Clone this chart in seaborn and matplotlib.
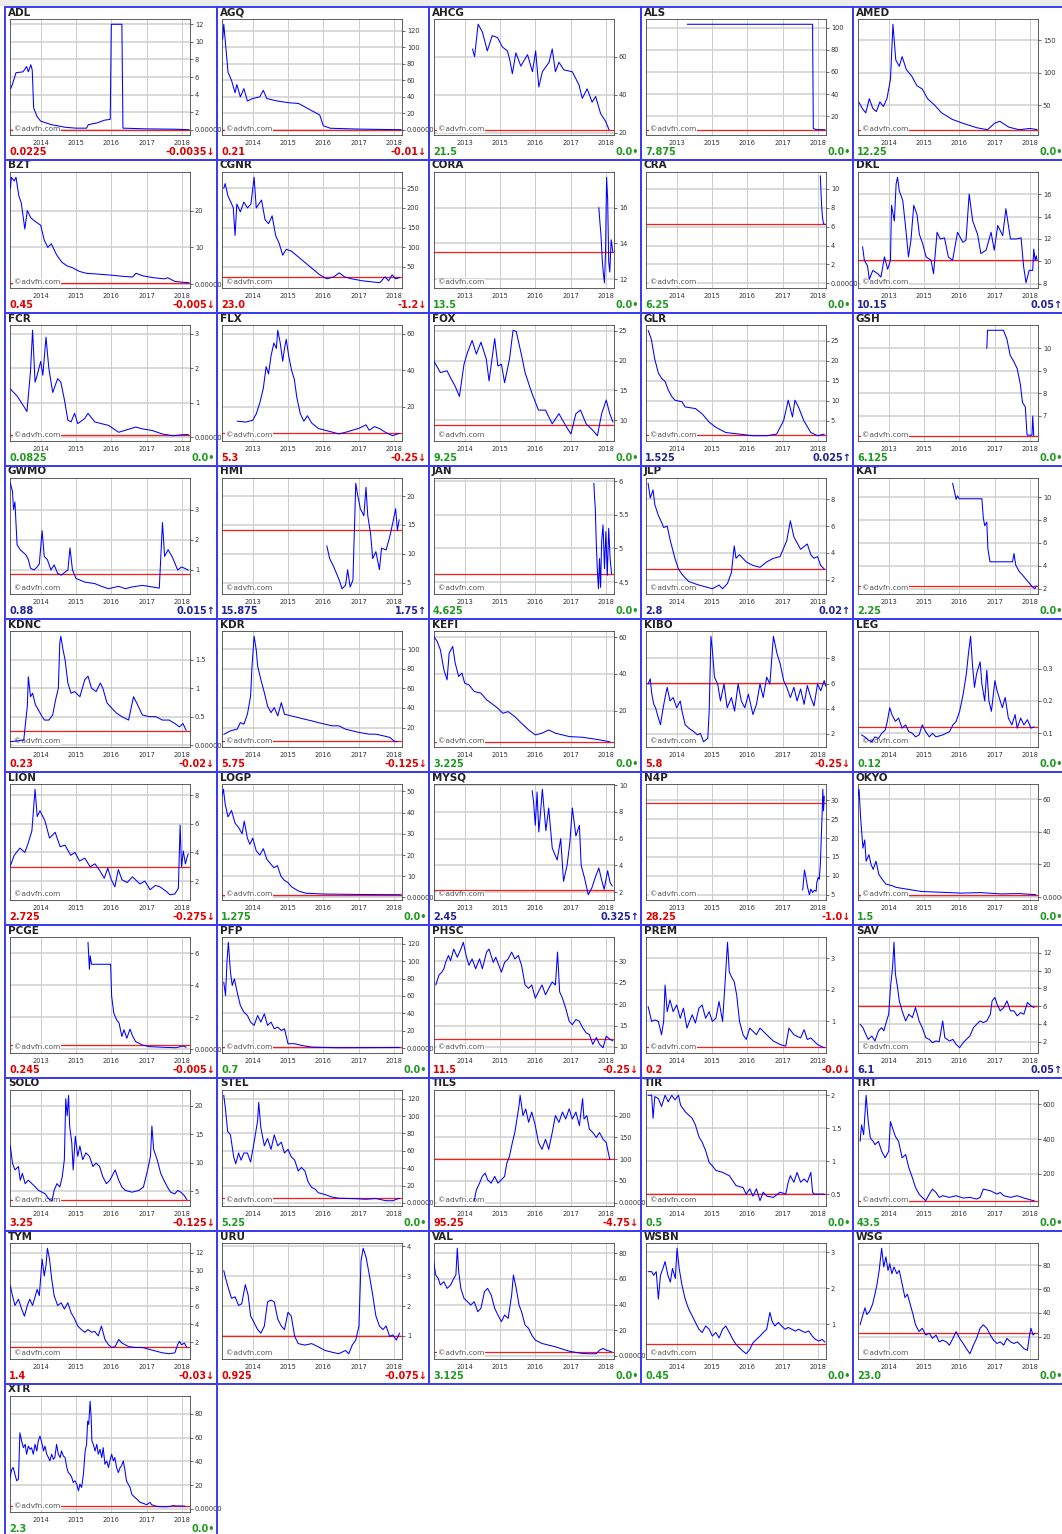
import matplotlib
matplotlib.use("Agg")
import matplotlib.pyplot as plt
from matplotlib.patches import Rectangle
from matplotlib.ticker import FuncFormatter
import pandas as pd
import seaborn as sns

# ---------------- data ----------------
TICKERS = ["ADL", "AGQ", "AHCG", "ALS", "AMED",
           "BZT", "CGNR", "CORA", "CRA", "DKL",
           "FCR", "FLX", "FOX", "GLR", "GSH",
           "GWMO", "HMI", "JAN", "JLP", "KAT",
           "KDNC", "KDR", "KEFI", "KIBO", "LEG",
           "LION", "LOGP", "MYSQ", "N4P", "OKYO",
           "PCGE", "PFP", "PHSC", "PREM", "SAV",
           "SOLO", "STEL", "TILS", "TIR", "TRT",
           "TYM", "URU", "VAL", "WSBN", "WSG",
           "XTR"]

PRICE = [0.0225, 0.21, 21.5, 7.875, 12.25,
         0.45, 23.0, 13.5, 6.25, 10.15,
         0.0825, 5.3, 9.25, 1.525, 6.125,
         0.88, 15.875, 4.625, 2.8, 2.25,
         0.23, 5.75, 3.225, 5.8, 0.12,
         2.725, 1.275, 2.45, 28.25, 1.5,
         0.245, 0.7, 11.5, 0.2, 6.1,
         3.25, 5.25, 95.25, 0.5, 43.5,
         1.4, 0.925, 3.125, 0.45, 23.0,
         2.3]

CHANGE = [-0.0035, -0.01, 0.0, 0.0, 0.0,
          -0.005, -1.2, 0.0, 0.0, 0.05,
          0.0, -0.25, 0.0, 0.025, 0.0,
          0.015, 1.75, 0.0, 0.02, 0.0,
          -0.02, -0.125, 0.0, -0.25, 0.0,
          -0.275, 0.0, 0.325, -1.0, 0.0,
          -0.005, 0.0, -0.25, -0.0, 0.05,
          -0.125, 0.0, -4.75, 0.0, 0.0,
          -0.03, -0.075, 0.0, 0.0, 0.0,
          0.0]

YTICKS = [[0, 2, 4, 6, 8, 10, 12], [0, 20, 40, 60, 80, 100, 120], [20, 40, 60], [20, 40, 60, 80, 100], [50, 100, 150],
          [0, 10, 20], [50, 100, 150, 200, 250], [12, 14, 16], [0, 2, 4, 6, 8, 10], [8, 10, 12, 14, 16],
          [0, 1, 2, 3], [20, 40, 60], [10, 15, 20, 25], [5, 10, 15, 20, 25], [7, 8, 9, 10],
          [1, 2, 3], [5, 10, 15, 20], [4.5, 5, 5.5, 6], [2, 4, 6, 8], [2, 4, 6, 8, 10],
          [0, 0.5, 1, 1.5], [20, 40, 60, 80, 100], [20, 40, 60], [2, 4, 6, 8], [0.1, 0.2, 0.3],
          [2, 4, 6, 8], [0, 10, 20, 30, 40, 50], [2, 4, 6, 8, 10], [5, 10, 15, 20, 25, 30], [0, 20, 40, 60],
          [0, 2, 4, 6], [0, 20, 40, 60, 80, 100, 120], [10, 15, 20, 25, 30], [1, 2, 3], [2, 4, 6, 8, 10, 12],
          [5, 10, 15, 20], [0, 20, 40, 60, 80, 100, 120], [0, 50, 100, 150, 200], [0.5, 1, 1.5, 2], [200, 400, 600],
          [2, 4, 6, 8, 10, 12], [1, 2, 3, 4], [0, 20, 40, 60, 80], [1, 2, 3], [20, 40, 60, 80],
          [0, 20, 40, 60, 80]]

YEAR_TICKS = [2014, 2015, 2016, 2017, 2018]
YEAR_LABELS = ["2014", "2015", "2016", "2017", "2018"]
YEAR_LABELS_OLD = ["2013", "2015", "2016", "2017", "2018"]
OLD_LABEL_PANELS = ["AHCG", "ALS", "CORA", "DKL", "FLX", "GSH", "HMI", "JAN", "KAT", "MYSQ", "N4P", "PCGE"]
FIXED_YLIM = {"CRA": (-0.5, 11.8)}

# price history, (year, price)
ADL = [(2013.15, 4.7), (2013.2, 5.2), (2013.3, 6.5), (2013.5, 6.6), (2013.6, 7.2), (2013.65, 6.6), (2013.72, 7.4),
       (2013.76, 6.8), (2013.8, 2.5), (2013.9, 1.5), (2014.0, 1.0), (2014.3, 0.6), (2014.7, 0.3), (2015.0, 0.2),
       (2015.3, 0.2), (2015.35, 0.6), (2015.6, 0.8), (2015.8, 1.1), (2015.97, 1.2), (2016.0, 12.0), (2016.3, 12.0),
       (2016.33, 0.2), (2017.0, 0.12), (2017.8, 0.08), (2018.2, 0.0225)]
AGQ = [(2013.15, 110), (2013.18, 128), (2013.25, 95), (2013.3, 70), (2013.4, 60), (2013.5, 45), (2013.55, 55),
       (2013.65, 40), (2013.75, 50), (2013.85, 35), (2014.0, 38), (2014.2, 40), (2014.3, 48), (2014.4, 38),
       (2014.7, 35), (2015.0, 33), (2015.3, 32), (2015.6, 25), (2015.9, 18), (2016.0, 5), (2016.2, 2),
       (2017.0, 1), (2018.2, 0.21)]
AHCG = [(2014.22, 64), (2014.28, 60), (2014.38, 77), (2014.5, 73), (2014.64, 63), (2014.78, 71), (2014.93, 70),
        (2015.07, 65), (2015.21, 63), (2015.28, 58), (2015.35, 51), (2015.45, 62), (2015.59, 55), (2015.78, 61),
        (2015.92, 52), (2016.01, 63), (2016.1, 44), (2016.2, 52), (2016.39, 57), (2016.48, 64), (2016.57, 52),
        (2016.67, 57), (2016.81, 53), (2017.05, 52), (2017.24, 45), (2017.33, 38), (2017.47, 43), (2017.61, 36),
        (2017.71, 39), (2017.85, 30), (2017.99, 26), (2018.09, 21.5)]
ALS = [(2014.3, 103), (2017.85, 103), (2017.87, 9), (2017.95, 8), (2018.2, 7.875)]
AMED = [(2013.15, 55), (2013.25, 45), (2013.35, 38), (2013.45, 60), (2013.55, 45), (2013.65, 40), (2013.75, 55),
        (2013.85, 48), (2013.95, 60), (2014.05, 90), (2014.12, 175), (2014.2, 120), (2014.3, 110), (2014.38, 125),
        (2014.5, 105), (2014.65, 95), (2014.8, 80), (2014.95, 75), (2015.1, 60), (2015.3, 50), (2015.5, 38),
        (2015.8, 28), (2016.1, 22), (2016.5, 15), (2016.8, 12), (2017.0, 22), (2017.15, 25), (2017.4, 16),
        (2017.7, 12), (2018.0, 14), (2018.2, 12.25)]
BZT = [(2013.14, 26), (2013.17, 29), (2013.25, 28), (2013.3, 29), (2013.38, 24), (2013.45, 22), (2013.55, 15),
       (2013.62, 20), (2013.72, 18), (2013.85, 17), (2014.0, 16), (2014.1, 12), (2014.2, 10), (2014.3, 11),
       (2014.45, 8), (2014.6, 6), (2014.75, 5), (2014.9, 4.5), (2015.1, 3.5), (2015.3, 3), (2015.6, 2.8),
       (2016.0, 2.5), (2016.3, 2.2), (2016.6, 2.0), (2016.7, 3.0), (2016.9, 2.3), (2017.2, 1.8), (2017.5, 1.5),
       (2017.6, 1.8), (2017.8, 0.8), (2018.0, 0.6), (2018.2, 0.45)]
CGNR = [(2013.18, 250), (2013.22, 262), (2013.3, 230), (2013.38, 215), (2013.45, 200), (2013.5, 130), (2013.55, 210),
        (2013.65, 190), (2013.75, 215), (2013.85, 200), (2013.95, 210), (2014.04, 278), (2014.1, 200), (2014.25, 220),
        (2014.35, 170), (2014.45, 160), (2014.55, 180), (2014.65, 130), (2014.75, 110), (2014.85, 80), (2014.95, 95),
        (2015.1, 90), (2015.3, 75), (2015.5, 60), (2015.7, 45), (2015.9, 30), (2016.1, 20), (2016.3, 25),
        (2016.45, 35), (2016.6, 25), (2016.8, 20), (2017.1, 15), (2017.4, 12), (2017.6, 10), (2017.75, 25),
        (2017.85, 15), (2017.95, 30), (2018.05, 20), (2018.16, 23)]
CORA = [(2017.8, 16.0), (2017.83, 15.2), (2017.86, 14.5), (2017.9, 13.0), (2017.93, 12.3), (2017.96, 11.8),
        (2017.99, 13.5), (2018.02, 17.7), (2018.05, 16.5), (2018.08, 13.0), (2018.11, 12.4), (2018.15, 14.2),
        (2018.2, 13.5)]
CRA = [(2018.07, 11.4), (2018.09, 9.5), (2018.11, 8.0), (2018.13, 7.0), (2018.16, 6.3), (2018.2, 6.25)]
DKL = [(2013.26, 11.3), (2013.31, 10.1), (2013.4, 9.6), (2013.45, 8.4), (2013.55, 9.2), (2013.69, 8.9),
       (2013.78, 8.6), (2013.88, 10.4), (2013.97, 9.3), (2014.05, 10.1), (2014.08, 15.0), (2014.16, 13.6),
       (2014.21, 16.9), (2014.25, 17.5), (2014.3, 16.3), (2014.4, 15.4), (2014.49, 12.7), (2014.56, 10.4),
       (2014.63, 11.9), (2014.71, 15.0), (2014.8, 14.2), (2014.87, 12.4), (2014.96, 11.6), (2015.06, 10.4),
       (2015.2, 10.1), (2015.27, 8.9), (2015.37, 12.6), (2015.46, 12.0), (2015.58, 12.1), (2015.69, 10.4),
       (2015.81, 10.1), (2015.95, 12.6), (2016.1, 11.7), (2016.19, 11.9), (2016.28, 16.0), (2016.38, 13.6),
       (2016.52, 12.4), (2016.61, 10.7), (2016.76, 11.0), (2016.9, 12.6), (2016.99, 11.0), (2017.09, 13.2),
       (2017.23, 12.3), (2017.32, 14.7), (2017.45, 12.0), (2017.61, 12.0), (2017.75, 12.1), (2017.82, 9.6),
       (2017.89, 8.1), (2017.98, 9.2), (2018.08, 9.2), (2018.11, 11.1), (2018.15, 10.1), (2018.18, 10.5),
       (2018.2, 10.15)]
FCR = [(2013.14, 1.4), (2013.33, 1.2), (2013.52, 0.9), (2013.61, 0.75), (2013.71, 1.9), (2013.77, 3.1),
       (2013.84, 1.6), (2013.9, 1.8), (2014.0, 2.2), (2014.06, 1.8), (2014.15, 2.9), (2014.23, 2.0), (2014.34, 1.3),
       (2014.48, 1.7), (2014.57, 1.6), (2014.67, 1.1), (2014.77, 0.5), (2014.86, 0.45), (2014.96, 0.7),
       (2015.05, 0.4), (2015.25, 0.55), (2015.34, 0.7), (2015.53, 0.45), (2015.72, 0.4), (2015.92, 0.35),
       (2016.21, 0.15), (2016.69, 0.3), (2016.88, 0.25), (2017.16, 0.2), (2017.45, 0.1), (2017.74, 0.05),
       (2018.03, 0.08), (2018.18, 0.0825)]
FLX = [(2013.56, 12), (2013.8, 11.5), (2014.0, 12.5), (2014.1, 16), (2014.2, 22), (2014.3, 30), (2014.38, 42),
       (2014.45, 38), (2014.52, 48), (2014.6, 55), (2014.67, 52), (2014.71, 62), (2014.78, 55), (2014.85, 45),
       (2014.9, 52), (2014.95, 57), (2015.02, 48), (2015.1, 40), (2015.18, 35), (2015.25, 25), (2015.35, 16),
       (2015.45, 12), (2015.55, 15), (2015.67, 11), (2015.86, 8), (2016.05, 7), (2016.25, 6), (2016.44, 5),
       (2016.65, 6), (2016.82, 7), (2017.0, 8), (2017.21, 10), (2017.3, 7), (2017.45, 9), (2017.59, 8),
       (2017.75, 6), (2017.96, 4), (2018.15, 5.3)]
FOX = [(2013.12, 20), (2013.31, 18), (2013.5, 18.3), (2013.6, 17.1), (2013.73, 15.7), (2013.85, 14), (2013.98, 19.4),
       (2014.08, 21.4), (2014.21, 23.4), (2014.33, 21.1), (2014.46, 23.1), (2014.61, 20.3), (2014.69, 16.6),
       (2014.85, 23.7), (2014.94, 19.1), (2015.04, 19.4), (2015.13, 16.3), (2015.27, 20.3), (2015.37, 25.1),
       (2015.46, 24.9), (2015.61, 20.9), (2015.71, 18), (2015.9, 14.6), (2016.09, 11.7), (2016.29, 11.7),
       (2016.48, 9.4), (2016.67, 11.1), (2016.86, 9.1), (2017.01, 7.7), (2017.15, 11.1), (2017.28, 11.7),
       (2017.44, 9.4), (2017.63, 8.3), (2017.76, 7.4), (2017.88, 11.1), (2018.01, 13.4), (2018.11, 11.1),
       (2018.2, 9.7)]
GLR = [(2013.19, 27.6), (2013.28, 25.4), (2013.38, 20.3), (2013.48, 16.9), (2013.57, 15.6), (2013.67, 14.8),
       (2013.76, 12.7), (2013.86, 11.0), (2013.95, 10.1), (2014.15, 9.7), (2014.24, 8.4), (2014.53, 8.0),
       (2014.72, 6.7), (2014.92, 4.6), (2015.11, 3.3), (2015.39, 2.0), (2015.78, 1.6), (2016.16, 1.2),
       (2016.55, 1.2), (2016.83, 1.6), (2017.03, 5.0), (2017.16, 10.1), (2017.28, 5.9), (2017.35, 10.1),
       (2017.45, 8.4), (2017.6, 5.0), (2017.8, 2.0), (2017.99, 1.2), (2018.18, 1.6)]
GSH = [(2016.78, 10.0), (2016.8, 10.8), (2017.25, 10.8), (2017.35, 10.4), (2017.44, 9.7), (2017.55, 9.4),
       (2017.64, 9.1), (2017.73, 8.4), (2017.79, 7.6), (2017.87, 7.4), (2017.92, 6.15), (2018.06, 6.15),
       (2018.08, 7.0), (2018.11, 6.125)]
GWMO = [(2013.14, 3.87), (2013.2, 3.6), (2013.23, 3.0), (2013.27, 3.25), (2013.33, 1.84), (2013.42, 1.67),
        (2013.58, 1.5), (2013.65, 1.34), (2013.71, 1.06), (2013.81, 1.0), (2013.9, 1.1), (2013.96, 1.2),
        (2014.04, 2.3), (2014.1, 1.45), (2014.19, 1.34), (2014.29, 1.0), (2014.38, 1.17), (2014.48, 0.89),
        (2014.58, 0.83), (2014.77, 1.0), (2014.83, 1.73), (2014.9, 1.0), (2015.0, 0.72), (2015.25, 0.6),
        (2015.53, 0.55), (2015.72, 0.46), (2015.92, 0.38), (2016.21, 0.46), (2016.4, 0.38), (2016.59, 0.44),
        (2016.88, 0.49), (2017.16, 0.44), (2017.36, 0.4), (2017.45, 2.57), (2017.51, 1.45), (2017.61, 1.67),
        (2017.74, 1.4), (2017.88, 1.0), (2017.99, 1.1), (2018.07, 1.06), (2018.18, 1.0)]
HMI = [(2016.1, 11.4), (2016.18, 9.2), (2016.28, 8.0), (2016.37, 6.7), (2016.47, 5.2), (2016.53, 4.0), (2016.63, 4.6),
       (2016.69, 7.3), (2016.76, 4.3), (2016.84, 5.5), (2016.92, 22.2), (2016.97, 20.3), (2017.05, 17.8),
       (2017.15, 16.6), (2017.21, 21.5), (2017.26, 16.6), (2017.34, 13.5), (2017.4, 9.2), (2017.49, 10.4),
       (2017.59, 7.3), (2017.65, 11.0), (2017.78, 10.7), (2017.88, 12.9), (2017.97, 15.4), (2018.05, 17.8),
       (2018.1, 14.1), (2018.15, 15.9)]
JAN = [(2017.66, 5.97), (2017.68, 5.75), (2017.7, 5.6), (2017.73, 5.05), (2017.76, 4.65), (2017.79, 4.4),
       (2017.82, 4.85), (2017.85, 4.42), (2017.88, 5.1), (2017.92, 5.35), (2017.96, 4.7), (2018.0, 5.25),
       (2018.04, 4.6), (2018.08, 5.3), (2018.12, 4.85), (2018.16, 4.625)]
JLP = [(2013.19, 9.2), (2013.25, 8.1), (2013.33, 8.7), (2013.38, 7.6), (2013.48, 6.8), (2013.57, 6.3), (2013.63, 5.9),
       (2013.73, 6.0), (2013.82, 4.9), (2013.95, 3.6), (2014.05, 2.8), (2014.15, 2.4), (2014.34, 1.87),
       (2014.63, 1.6), (2014.82, 1.47), (2015.01, 1.33), (2015.2, 1.6), (2015.3, 1.33), (2015.44, 1.73),
       (2015.55, 2.53), (2015.63, 4.53), (2015.68, 3.6), (2015.78, 3.87), (2015.97, 3.33), (2016.16, 3.07),
       (2016.36, 2.93), (2016.55, 3.33), (2016.74, 3.6), (2016.93, 3.73), (2017.12, 4.93), (2017.22, 6.4),
       (2017.32, 5.2), (2017.51, 4.27), (2017.7, 4.67), (2017.8, 3.87), (2017.89, 3.6), (2017.99, 3.73),
       (2018.08, 3.07), (2018.18, 2.8)]
KAT = [(2015.81, 11.2), (2015.87, 10.4), (2015.91, 9.8), (2015.95, 10.1), (2016.0, 9.85), (2016.64, 9.85),
       (2016.68, 8.2), (2016.72, 7.5), (2016.78, 7.8), (2016.81, 5.5), (2016.87, 4.35), (2017.51, 4.35),
       (2017.55, 5.07), (2017.6, 4.06), (2017.7, 3.5), (2017.79, 3.2), (2017.87, 2.9), (2017.98, 2.5),
       (2018.06, 2.2), (2018.14, 2.0), (2018.18, 2.25)]
KDNC = [(2013.14, 0.06), (2013.52, 0.09), (2013.62, 0.68), (2013.65, 1.2), (2013.71, 0.85), (2013.77, 0.91),
        (2013.85, 0.71), (2013.96, 0.59), (2014.04, 0.5), (2014.11, 0.44), (2014.23, 0.44), (2014.34, 0.53),
        (2014.42, 0.79), (2014.5, 1.0), (2014.54, 1.79), (2014.57, 1.91), (2014.63, 1.68), (2014.69, 1.5),
        (2014.77, 1.09), (2014.86, 0.91), (2014.96, 0.94), (2015.11, 0.85), (2015.25, 1.15), (2015.34, 1.21),
        (2015.44, 1.0), (2015.57, 0.94), (2015.69, 1.09), (2015.76, 1.0), (2015.88, 0.74), (2016.01, 0.65),
        (2016.15, 0.56), (2016.3, 0.5), (2016.49, 0.44), (2016.63, 0.85), (2016.72, 0.74), (2016.88, 0.53),
        (2017.07, 0.5), (2017.26, 0.5), (2017.45, 0.44), (2017.64, 0.44), (2017.8, 0.38), (2017.93, 0.32),
        (2018.03, 0.38), (2018.12, 0.26)]
KDR = [(2013.18, 13), (2013.37, 16.6), (2013.56, 18.3), (2013.65, 25), (2013.75, 23.4), (2013.85, 33.5),
       (2013.94, 52), (2013.98, 82.5), (2014.04, 113), (2014.1, 99), (2014.14, 82.5), (2014.23, 69),
       (2014.33, 55.5), (2014.42, 42), (2014.52, 35.2), (2014.61, 40.3), (2014.71, 31.8), (2014.81, 45.3),
       (2014.9, 33.5), (2015.09, 31.8), (2015.29, 30.1), (2015.48, 28.4), (2015.67, 26.8), (2015.86, 25),
       (2016.05, 23.4), (2016.25, 21.7), (2016.44, 21.7), (2016.63, 18.3), (2016.82, 16.6), (2017.01, 15),
       (2017.3, 13.2), (2017.49, 13.2), (2017.69, 11.6), (2017.88, 10), (2018.03, 5.5), (2018.1, 5.75)]
KEFI = [(2013.12, 60.4), (2013.22, 57.6), (2013.31, 53.1), (2013.41, 42.3), (2013.5, 36.8), (2013.56, 51.3),
        (2013.66, 54.9), (2013.73, 45.9), (2013.83, 38.6), (2013.92, 40.5), (2014.0, 35), (2014.12, 34.1),
        (2014.27, 30.5), (2014.46, 29.6), (2014.62, 26), (2014.75, 24.2), (2014.94, 21.4), (2015.08, 18.7),
        (2015.23, 19.6), (2015.42, 16.9), (2015.61, 13.3), (2015.81, 9.7), (2016.0, 7), (2016.19, 7.9),
        (2016.38, 9.7), (2016.57, 7.9), (2016.77, 7), (2016.96, 6.1), (2017.34, 5.7), (2017.73, 4.6),
        (2018.11, 3.3)]
KIBO = [(2013.19, 5.97), (2013.25, 6.38), (2013.29, 5.24), (2013.35, 4.35), (2013.4, 4.08), (2013.48, 3.27),
        (2013.54, 2.73), (2013.6, 3.81), (2013.67, 4.89), (2013.73, 5.7), (2013.81, 4.62), (2013.9, 4.89),
        (2014.0, 4.08), (2014.1, 4.62), (2014.15, 3.81), (2014.24, 2.73), (2014.34, 2.46), (2014.48, 2.19),
        (2014.59, 1.92), (2014.67, 2.05), (2014.76, 1.38), (2014.88, 1.65), (2014.92, 3.81), (2014.97, 9.76),
        (2015.01, 8.68), (2015.07, 6.51), (2015.16, 5.97), (2015.24, 4.62), (2015.34, 5.97), (2015.43, 4.08),
        (2015.55, 4.89), (2015.64, 3.81), (2015.74, 5.97), (2015.83, 4.62), (2015.93, 4.08), (2016.03, 5.16),
        (2016.16, 3.54), (2016.26, 4.35), (2016.36, 5.97), (2016.45, 4.89), (2016.55, 6.51), (2016.64, 5.97),
        (2016.74, 9.76), (2016.84, 8.41), (2016.93, 7.59), (2017.03, 6.24), (2017.12, 5.7), (2017.22, 4.89),
        (2017.32, 5.7), (2017.41, 4.62), (2017.51, 5.57), (2017.61, 4.35), (2017.7, 5.84), (2017.8, 4.89),
        (2017.89, 4.22), (2017.99, 5.97), (2018.08, 5.43), (2018.18, 6.24), (2018.22, 5.8)]
LEG = [(2013.23, 0.095), (2013.32, 0.089), (2013.42, 0.079), (2013.52, 0.074), (2013.61, 0.089), (2013.71, 0.084),
       (2013.8, 0.1), (2013.9, 0.11), (2013.96, 0.137), (2014.03, 0.179), (2014.09, 0.158), (2014.19, 0.137),
       (2014.28, 0.147), (2014.38, 0.116), (2014.48, 0.126), (2014.57, 0.105), (2014.67, 0.1), (2014.76, 0.089),
       (2014.86, 0.095), (2014.95, 0.126), (2015.05, 0.105), (2015.15, 0.089), (2015.24, 0.1), (2015.34, 0.089),
       (2015.53, 0.095), (2015.72, 0.105), (2015.82, 0.126), (2015.91, 0.137), (2016.01, 0.168), (2016.11, 0.221),
       (2016.2, 0.284), (2016.26, 0.347), (2016.32, 0.4), (2016.37, 0.316), (2016.43, 0.242), (2016.49, 0.284),
       (2016.59, 0.321), (2016.64, 0.253), (2016.72, 0.2), (2016.78, 0.295), (2016.84, 0.2), (2016.91, 0.168),
       (2017.01, 0.263), (2017.07, 0.232), (2017.16, 0.2), (2017.22, 0.179), (2017.3, 0.211), (2017.39, 0.147),
       (2017.49, 0.126), (2017.58, 0.158), (2017.64, 0.116), (2017.74, 0.147), (2017.83, 0.126), (2017.93, 0.142),
       (2018.03, 0.116), (2018.12, 0.12)]
LION = [(2013.13, 3.0), (2013.25, 3.8), (2013.41, 4.3), (2013.55, 4.0), (2013.64, 4.6), (2013.75, 5.5),
        (2013.84, 8.4), (2013.9, 6.5), (2013.98, 6.9), (2014.12, 6.2), (2014.25, 5.0), (2014.41, 5.4),
        (2014.55, 4.4), (2014.69, 4.5), (2014.85, 3.8), (2014.97, 4.0), (2015.1, 3.4), (2015.25, 3.6),
        (2015.4, 3.0), (2015.54, 3.2), (2015.68, 2.7), (2015.8, 2.2), (2015.9, 2.9), (2016.0, 2.1), (2016.1, 1.6),
        (2016.2, 2.8), (2016.3, 2.1), (2016.45, 1.9), (2016.6, 2.3), (2016.81, 1.8), (2016.95, 2.0), (2017.1, 1.4),
        (2017.25, 1.7), (2017.38, 1.6), (2017.55, 1.3), (2017.66, 1.05), (2017.8, 1.1), (2017.9, 1.5),
        (2017.95, 5.9), (2017.99, 3.0), (2018.04, 4.1), (2018.1, 3.2), (2018.14, 3.6), (2018.18, 3.9)]
LOGP = [(2013.13, 48), (2013.17, 51), (2013.22, 44), (2013.3, 38), (2013.4, 41), (2013.5, 35), (2013.6, 33),
        (2013.7, 30), (2013.76, 36), (2013.85, 28), (2013.92, 25), (2014.0, 28), (2014.1, 22), (2014.2, 20),
        (2014.3, 23), (2014.4, 18), (2014.5, 16), (2014.6, 14), (2014.7, 15), (2014.8, 10), (2014.9, 8),
        (2015.0, 7), (2015.1, 5), (2015.3, 3), (2015.5, 2), (2016.0, 1.6), (2017.0, 1.4), (2018.0, 1.3),
        (2018.2, 1.275)]
MYSQ = [(2015.91, 9.6), (2015.95, 8.8), (2016.0, 7.0), (2016.05, 9.5), (2016.1, 6.5), (2016.15, 8.0), (2016.2, 9.7),
        (2016.3, 6.6), (2016.38, 8.3), (2016.48, 5.3), (2016.62, 4.4), (2016.72, 6.0), (2016.8, 2.8), (2016.9, 4.0),
        (2016.98, 5.7), (2017.05, 8.3), (2017.15, 6.2), (2017.25, 7.0), (2017.3, 4.0), (2017.4, 3.0), (2017.5, 1.8),
        (2017.6, 2.3), (2017.7, 3.1), (2017.8, 3.8), (2017.88, 2.9), (2017.95, 2.2), (2018.05, 3.6), (2018.12, 2.7),
        (2018.18, 2.45)]
N4P = [(2017.57, 6.2), (2017.62, 11.5), (2017.66, 9.6), (2017.71, 6.9), (2017.76, 5.0), (2017.8, 6.5), (2017.85, 5.6),
       (2017.9, 6.2), (2017.95, 5.9), (2017.97, 8.3), (2018.01, 9.6), (2018.04, 9.1), (2018.07, 13.1),
       (2018.09, 18.4), (2018.12, 26.3), (2018.14, 32.9), (2018.16, 27.2), (2018.18, 31.1)]
OKYO = [(2013.13, 62), (2013.16, 66), (2013.2, 50), (2013.22, 44), (2013.27, 30), (2013.32, 35), (2013.36, 22),
        (2013.44, 26), (2013.5, 20), (2013.56, 17), (2013.64, 22), (2013.72, 14), (2013.78, 12), (2013.92, 8),
        (2014.1, 7), (2014.21, 6), (2014.49, 5), (2014.92, 3.5), (2015.48, 3), (2016.05, 2.5), (2016.6, 2.8),
        (2017.18, 2), (2017.7, 2.2), (2018.17, 1.5)]
PCGE = [(2015.34, 6.67), (2015.38, 4.99), (2015.4, 5.83), (2015.44, 5.3), (2015.98, 5.3), (2016.01, 3.31),
        (2016.07, 2.26), (2016.15, 1.84), (2016.22, 1.64), (2016.3, 0.8), (2016.36, 1.22), (2016.44, 0.69),
        (2016.53, 1.26), (2016.61, 0.8), (2016.69, 0.48), (2016.88, 0.27), (2017.07, 0.17), (2017.45, 0.13),
        (2017.84, 0.1), (2018.03, 0.21), (2018.12, 0.13)]
PFP = [(2013.18, 75.9), (2013.23, 60.5), (2013.27, 98.9), (2013.31, 121.8), (2013.37, 87.4), (2013.42, 72),
       (2013.48, 79.7), (2013.56, 64.4), (2013.65, 49), (2013.75, 41.4), (2013.85, 37.5), (2013.94, 29.9),
       (2014.04, 26.1), (2014.14, 37.5), (2014.23, 29.9), (2014.33, 39.5), (2014.42, 26.1), (2014.52, 29.9),
       (2014.61, 22.2), (2014.71, 24.1), (2014.81, 20.3), (2014.9, 22.2), (2015.0, 5), (2015.19, 5), (2015.38, 3.1),
       (2015.67, 1.1), (2016.44, 0.4), (2018.16, 0.7)]
PHSC = [(2013.18, 24.5), (2013.27, 26.8), (2013.35, 27.5), (2013.41, 28.3), (2013.46, 29.8), (2013.54, 31.4),
        (2013.6, 30.2), (2013.69, 32.9), (2013.79, 31.0), (2013.89, 32.9), (2013.96, 34.5), (2014.04, 31.4),
        (2014.12, 29.1), (2014.21, 30.6), (2014.31, 28.3), (2014.42, 30.6), (2014.5, 28.3), (2014.62, 32.2),
        (2014.69, 32.9), (2014.81, 29.8), (2014.88, 31.0), (2015.04, 27.5), (2015.13, 29.8), (2015.23, 30.6),
        (2015.33, 32.2), (2015.42, 30.6), (2015.52, 31.4), (2015.61, 29.1), (2015.71, 24.5), (2015.81, 23.7),
        (2015.9, 24.5), (2016.0, 21.4), (2016.09, 22.9), (2016.19, 24.5), (2016.29, 22.2), (2016.38, 23.7),
        (2016.48, 25.2), (2016.57, 24.5), (2016.63, 32.2), (2016.69, 22.9), (2016.77, 21.4), (2016.86, 19.1),
        (2016.96, 16.0), (2017.05, 15.2), (2017.15, 16.4), (2017.25, 16.0), (2017.34, 14.5), (2017.44, 13.3),
        (2017.53, 12.9), (2017.63, 10.6), (2017.73, 12.2), (2017.82, 10.6), (2017.92, 9.8), (2018.01, 12.5),
        (2018.11, 11.8), (2018.2, 11.4)]
PREM = [(2013.19, 1.47), (2013.29, 1.0), (2013.38, 1.05), (2013.48, 1.0), (2013.57, 0.58), (2013.63, 1.0),
        (2013.67, 2.15), (2013.73, 1.31), (2013.81, 1.68), (2013.9, 1.31), (2014.0, 1.52), (2014.1, 1.1),
        (2014.19, 1.42), (2014.29, 0.79), (2014.36, 1.0), (2014.44, 1.21), (2014.53, 0.95), (2014.63, 1.42),
        (2014.72, 1.52), (2014.82, 1.1), (2014.92, 1.31), (2015.01, 1.0), (2015.11, 1.1), (2015.2, 1.63),
        (2015.3, 1.0), (2015.36, 2.04), (2015.44, 3.5), (2015.49, 2.56), (2015.55, 2.41), (2015.63, 2.25),
        (2015.7, 1.83), (2015.78, 1.0), (2015.88, 0.58), (2015.97, 0.43), (2016.07, 0.79), (2016.16, 0.69),
        (2016.26, 0.58), (2016.36, 0.79), (2016.45, 0.69), (2016.55, 0.58), (2016.74, 0.38), (2016.93, 0.27),
        (2017.09, 0.22), (2017.18, 0.79), (2017.32, 0.58), (2017.51, 0.48), (2017.61, 0.74), (2017.7, 0.43),
        (2017.8, 0.48), (2017.89, 0.38), (2017.99, 0.27), (2018.08, 0.22), (2018.18, 0.17)]
SAV = [(2013.19, 3.96), (2013.27, 3.58), (2013.35, 2.83), (2013.42, 2.26), (2013.52, 2.64), (2013.61, 2.08),
       (2013.71, 3.21), (2013.8, 3.58), (2013.86, 3.21), (2013.94, 4.34), (2014.0, 5.09), (2014.05, 8.11),
       (2014.11, 10.38), (2014.15, 13.2), (2014.19, 9.62), (2014.25, 8.11), (2014.3, 6.6), (2014.38, 5.47),
       (2014.48, 4.34), (2014.57, 5.09), (2014.67, 4.72), (2014.76, 5.85), (2014.86, 4.34), (2014.95, 3.58),
       (2015.05, 2.45), (2015.15, 2.26), (2015.24, 1.89), (2015.34, 2.08), (2015.43, 2.0), (2015.53, 4.34),
       (2015.59, 2.45), (2015.72, 2.08), (2015.82, 2.26), (2015.91, 1.7), (2016.01, 1.32), (2016.11, 1.89),
       (2016.2, 2.26), (2016.3, 2.64), (2016.4, 3.58), (2016.49, 3.96), (2016.59, 4.34), (2016.68, 4.15),
       (2016.78, 4.34), (2016.88, 5.09), (2016.93, 6.6), (2017.01, 6.98), (2017.07, 6.23), (2017.16, 5.47),
       (2017.26, 5.85), (2017.35, 6.6), (2017.45, 5.47), (2017.55, 5.47), (2017.64, 4.91), (2017.74, 5.28),
       (2017.83, 5.09), (2017.93, 6.42), (2018.03, 6.04), (2018.12, 5.85)]
SOLO = [(2013.14, 12.9), (2013.2, 9.9), (2013.27, 8.7), (2013.37, 9.3), (2013.42, 6.9), (2013.48, 8.1),
        (2013.56, 6.3), (2013.65, 6.9), (2013.75, 6.3), (2013.85, 5.7), (2013.94, 5.1), (2014.04, 4.8),
        (2014.13, 4.5), (2014.23, 3.6), (2014.32, 3.3), (2014.38, 5.1), (2014.46, 6.3), (2014.54, 5.7),
        (2014.61, 7.5), (2014.67, 10.5), (2014.71, 21.2), (2014.75, 18.2), (2014.79, 21.8), (2014.82, 16.4),
        (2014.88, 13.5), (2014.92, 8.7), (2014.98, 14.6), (2015.05, 11.1), (2015.11, 12.9), (2015.19, 10.5),
        (2015.28, 11.7), (2015.38, 11.1), (2015.48, 9.3), (2015.57, 9.9), (2015.67, 9.3), (2015.76, 7.5),
        (2015.86, 6.3), (2015.96, 6.9), (2016.11, 8.7), (2016.21, 6.9), (2016.3, 5.7), (2016.4, 5.1),
        (2016.59, 4.8), (2016.78, 5.1), (2016.91, 5.7), (2017.03, 8.7), (2017.11, 11.1), (2017.15, 16.4),
        (2017.2, 12.3), (2017.3, 10.5), (2017.4, 8.1), (2017.49, 6.9), (2017.59, 5.7), (2017.68, 4.8),
        (2017.8, 4.5), (2017.88, 5.1), (2017.97, 4.8), (2018.07, 4.2), (2018.14, 3.5)]
STEL = [(2013.18, 124), (2013.23, 107.5), (2013.29, 82.5), (2013.37, 78.3), (2013.46, 53.3), (2013.52, 45),
        (2013.6, 57.5), (2013.67, 49.2), (2013.75, 57.5), (2013.85, 57.5), (2013.94, 47.1), (2014.04, 70),
        (2014.14, 95), (2014.17, 115.8), (2014.23, 86.7), (2014.33, 65.8), (2014.42, 74.2), (2014.52, 61.7),
        (2014.61, 78.3), (2014.71, 65.8), (2014.81, 70), (2014.9, 57.5), (2015.0, 61.7), (2015.09, 53.3),
        (2015.19, 49.2), (2015.29, 36.7), (2015.38, 40.8), (2015.48, 36.7), (2015.57, 24.2), (2015.67, 17.9),
        (2015.77, 15.8), (2015.86, 11.7), (2016.05, 9.6), (2016.25, 6.7), (2016.44, 5.4), (2016.82, 5),
        (2017.21, 4.2), (2017.49, 5), (2017.78, 2.5), (2017.97, 2.5), (2018.07, 4.2), (2018.16, 5.25)]
TILS = [(2014.27, 4.7), (2014.33, 29.5), (2014.42, 45), (2014.5, 60.5), (2014.58, 68.2), (2014.65, 52.7),
        (2014.75, 45), (2014.85, 60.5), (2014.94, 45), (2015.04, 52.7), (2015.13, 60.5), (2015.19, 89.9),
        (2015.27, 107), (2015.35, 138), (2015.42, 161), (2015.48, 192), (2015.54, 223), (2015.57, 246.5),
        (2015.65, 200), (2015.73, 215), (2015.81, 184.5), (2015.9, 208), (2016.0, 177), (2016.09, 138),
        (2016.19, 122.5), (2016.29, 145.7), (2016.38, 122.5), (2016.48, 161), (2016.57, 200), (2016.67, 184.5),
        (2016.77, 208), (2016.86, 192), (2016.96, 215.5), (2017.05, 192), (2017.15, 208), (2017.25, 177),
        (2017.34, 238.8), (2017.38, 192), (2017.46, 200), (2017.53, 169), (2017.63, 161), (2017.73, 149.6),
        (2017.82, 161), (2017.92, 145.7), (2018.01, 138), (2018.11, 99.2)]
TIR = [(2013.19, 2.0), (2013.29, 2.0), (2013.33, 1.65), (2013.38, 1.98), (2013.48, 1.95), (2013.57, 1.83),
       (2013.67, 2.0), (2013.76, 1.9), (2013.86, 2.0), (2013.95, 1.93), (2014.05, 2.0), (2014.11, 1.85),
       (2014.24, 1.75), (2014.44, 1.65), (2014.53, 1.55), (2014.63, 1.37), (2014.72, 1.29), (2014.82, 1.16),
       (2014.92, 0.98), (2015.01, 0.93), (2015.11, 0.86), (2015.3, 0.83), (2015.49, 0.78), (2015.68, 0.63),
       (2015.88, 0.6), (2015.97, 0.5), (2016.07, 0.58), (2016.16, 0.47), (2016.26, 0.58), (2016.36, 0.4),
       (2016.45, 0.53), (2016.55, 0.47), (2016.74, 0.45), (2016.93, 0.53), (2017.09, 0.5), (2017.16, 0.68),
       (2017.22, 0.78), (2017.32, 0.68), (2017.41, 0.83), (2017.51, 0.68), (2017.61, 0.73), (2017.7, 0.68),
       (2017.8, 0.83), (2017.85, 0.53), (2017.89, 0.5), (2018.18, 0.5)]
TRT = [(2013.19, 386.7), (2013.23, 482), (2013.29, 425), (2013.36, 653), (2013.42, 501), (2013.48, 405.7),
       (2013.56, 386.7), (2013.61, 367.6), (2013.71, 386.7), (2013.8, 329.5), (2013.9, 291.4), (2014.0, 329.5),
       (2014.05, 501), (2014.11, 463), (2014.19, 415), (2014.28, 386.7), (2014.38, 291.4), (2014.48, 310.5),
       (2014.57, 234.3), (2014.67, 177), (2014.76, 120), (2014.86, 81.9), (2014.95, 62.9), (2015.05, 43.8),
       (2015.15, 81.9), (2015.24, 110.5), (2015.34, 91.4), (2015.43, 62.9), (2015.53, 72.4), (2015.72, 62.9),
       (2015.91, 72.4), (2016.11, 59), (2016.3, 62.9), (2016.49, 53.3), (2016.59, 62.9), (2016.68, 110.5),
       (2016.88, 101), (2017.07, 82), (2017.16, 91.4), (2017.26, 72.4), (2017.45, 62.9), (2017.64, 72.4),
       (2017.83, 59), (2018.03, 47.6), (2018.12, 43.5)]
TYM = [(2013.14, 8.3), (2013.2, 7.2), (2013.27, 6.1), (2013.37, 6.8), (2013.46, 5.7), (2013.54, 4.9), (2013.62, 6.1),
       (2013.69, 6.8), (2013.77, 6.1), (2013.85, 7.2), (2013.9, 7.9), (2013.96, 7.2), (2014.04, 11.3), (2014.1, 9.4),
       (2014.15, 10.6), (2014.19, 12.5), (2014.25, 11.3), (2014.31, 9.1), (2014.38, 7.2), (2014.48, 6.1),
       (2014.58, 6.4), (2014.67, 5.7), (2014.77, 6.4), (2014.86, 5.3), (2014.96, 4.6), (2015.05, 3.8),
       (2015.15, 3.4), (2015.25, 3.1), (2015.34, 3.4), (2015.44, 3.1), (2015.53, 3.2), (2015.63, 2.7),
       (2015.72, 3.8), (2015.82, 2.3), (2015.92, 1.7), (2016.01, 1.4), (2016.11, 1.5), (2016.21, 2.3),
       (2016.3, 1.9), (2016.49, 1.5), (2016.69, 1.4), (2016.88, 1.4), (2017.07, 1.2), (2017.26, 1.0),
       (2017.45, 0.8), (2017.64, 0.7), (2017.8, 0.8), (2017.88, 1.7), (2017.93, 2.1), (2017.99, 1.7),
       (2018.07, 1.9), (2018.14, 1.4)]
URU = [(2013.18, 3.19), (2013.23, 2.95), (2013.31, 2.6), (2013.4, 2.26), (2013.5, 2.31), (2013.6, 2.02),
       (2013.69, 2.08), (2013.79, 2.72), (2013.87, 2.37), (2013.94, 1.67), (2014.04, 1.44), (2014.14, 1.21),
       (2014.23, 1.09), (2014.33, 1.33), (2014.42, 2.14), (2014.52, 2.2), (2014.61, 2.14), (2014.71, 1.56),
       (2014.81, 1.33), (2014.9, 1.21), (2015.0, 1.79), (2015.09, 1.67), (2015.19, 0.98), (2015.29, 0.74),
       (2015.48, 0.69), (2015.67, 0.74), (2015.86, 0.63), (2016.05, 0.51), (2016.25, 0.45), (2016.44, 0.4),
       (2016.63, 0.51), (2016.72, 0.4), (2016.82, 0.69), (2016.92, 0.86), (2017.01, 1.33), (2017.07, 3.53),
       (2017.13, 3.94), (2017.21, 3.65), (2017.3, 3.07), (2017.4, 2.37), (2017.49, 1.67), (2017.59, 1.33),
       (2017.69, 1.21), (2017.78, 1.33), (2017.88, 0.98), (2017.97, 1.03), (2018.07, 0.86), (2018.16, 1.09)]
VAL = [(2013.12, 73.4), (2013.18, 63), (2013.25, 60.4), (2013.31, 55.2), (2013.41, 57.8), (2013.5, 52.6),
       (2013.6, 55.2), (2013.69, 60.4), (2013.75, 63), (2013.79, 83.9), (2013.83, 65.6), (2013.89, 52.6),
       (2013.98, 44.8), (2014.08, 42.2), (2014.17, 39.6), (2014.27, 42.2), (2014.37, 34.4), (2014.46, 37),
       (2014.56, 50), (2014.65, 52.6), (2014.75, 47.4), (2014.85, 37), (2014.94, 31.8), (2015.04, 26.6),
       (2015.13, 31.8), (2015.23, 29.2), (2015.33, 47.4), (2015.38, 63), (2015.46, 52.6), (2015.54, 39.6),
       (2015.61, 34.4), (2015.71, 24), (2015.81, 21.4), (2015.9, 16.1), (2016.0, 12.2), (2016.19, 9.6),
       (2016.38, 8.3), (2016.57, 7), (2016.77, 5.2), (2016.96, 3.6), (2017.15, 2.6), (2017.34, 1.8),
       (2017.53, 1.6), (2017.73, 1.6), (2017.82, 4.4), (2017.92, 5.7), (2018.01, 4.4), (2018.11, 3.6),
       (2018.16, 3.1)]
WSBN = [(2013.19, 2.46), (2013.29, 2.46), (2013.35, 2.36), (2013.42, 2.46), (2013.48, 1.7), (2013.54, 2.36),
        (2013.61, 2.55), (2013.67, 2.74), (2013.75, 2.36), (2013.82, 2.17), (2013.88, 2.55), (2013.96, 2.27),
        (2014.01, 3.11), (2014.07, 2.55), (2014.15, 2.08), (2014.24, 1.7), (2014.34, 1.42), (2014.44, 1.23),
        (2014.53, 1.05), (2014.63, 0.86), (2014.72, 0.77), (2014.82, 0.95), (2014.92, 0.86), (2015.01, 0.67),
        (2015.11, 0.77), (2015.2, 0.62), (2015.3, 0.86), (2015.39, 0.95), (2015.49, 0.77), (2015.59, 0.58),
        (2015.68, 0.44), (2015.78, 0.34), (2015.88, 0.25), (2015.97, 0.18), (2016.07, 0.3), (2016.16, 0.48),
        (2016.26, 0.58), (2016.36, 0.67), (2016.45, 0.77), (2016.55, 0.86), (2016.64, 1.33), (2016.7, 1.09),
        (2016.78, 0.95), (2016.88, 1.05), (2016.97, 0.95), (2017.07, 0.86), (2017.16, 0.91), (2017.26, 0.86),
        (2017.36, 0.81), (2017.45, 0.86), (2017.55, 0.81), (2017.64, 0.77), (2017.74, 0.81), (2017.84, 0.67),
        (2017.93, 0.58), (2018.03, 0.53), (2018.12, 0.58), (2018.2, 0.5)]
WSG = [(2013.19, 30), (2013.27, 38.6), (2013.33, 44.3), (2013.38, 38.6), (2013.46, 41.4), (2013.54, 47.1),
       (2013.61, 55.7), (2013.67, 64.3), (2013.73, 75.7), (2013.8, 94.3), (2013.86, 78.6), (2013.92, 87.1),
       (2013.98, 75.7), (2014.03, 81.4), (2014.09, 72.9), (2014.15, 78.6), (2014.23, 72.9), (2014.3, 75.7),
       (2014.38, 64.3), (2014.46, 52.9), (2014.53, 55.7), (2014.61, 47.1), (2014.69, 38.6), (2014.76, 30),
       (2014.86, 24.3), (2014.95, 27.1), (2015.05, 21.4), (2015.15, 22.9), (2015.24, 18.6), (2015.34, 21.4),
       (2015.43, 15.7), (2015.53, 17.1), (2015.63, 15.7), (2015.72, 12.9), (2015.82, 18.6), (2015.91, 24.3),
       (2016.01, 18.6), (2016.11, 14.3), (2016.2, 10), (2016.3, 5.7), (2016.4, 12.9), (2016.49, 18.6),
       (2016.59, 27.1), (2016.68, 30), (2016.78, 27.1), (2016.88, 21.4), (2016.97, 17.1), (2017.07, 14.3),
       (2017.16, 15.7), (2017.26, 12.9), (2017.35, 18.6), (2017.45, 15.7), (2017.55, 14.3), (2017.64, 15.7),
       (2017.74, 12.9), (2017.83, 10), (2017.93, 8.6), (2017.99, 21.4), (2018.03, 27.1), (2018.09, 21.4),
       (2018.14, 22.9)]
XTR = [(2013.13, 26.5), (2013.18, 33.4), (2013.22, 34.8), (2013.27, 29.2), (2013.32, 23.7), (2013.37, 25.1),
       (2013.41, 64), (2013.46, 57.1), (2013.51, 51.5), (2013.56, 54.3), (2013.6, 46), (2013.65, 52.9),
       (2013.7, 50.1), (2013.74, 51.5), (2013.79, 46), (2013.84, 54.3), (2013.89, 48.7), (2013.93, 57.1),
       (2013.98, 61.3), (2014.03, 55.7), (2014.08, 48.7), (2014.12, 52.9), (2014.17, 46), (2014.22, 43.2),
       (2014.26, 40.4), (2014.31, 46), (2014.36, 41.8), (2014.4, 43.2), (2014.45, 54.3), (2014.5, 46),
       (2014.55, 43.2), (2014.59, 48.7), (2014.64, 44.6), (2014.69, 43.2), (2014.74, 34.8), (2014.78, 30.6),
       (2014.83, 29.2), (2014.88, 26.5), (2014.92, 22.3), (2014.97, 23.7), (2015.02, 20.9), (2015.07, 15.3),
       (2015.11, 20.9), (2015.16, 18.1), (2015.21, 29.2), (2015.26, 48.7), (2015.3, 54.3), (2015.33, 73.8),
       (2015.36, 71), (2015.4, 90.5), (2015.43, 76.6), (2015.45, 57.1), (2015.49, 54.3), (2015.54, 48.7),
       (2015.59, 54.3), (2015.63, 46), (2015.68, 50.1), (2015.73, 43.2), (2015.77, 51.5), (2015.82, 37.6),
       (2015.87, 40.4), (2015.92, 34.8), (2015.96, 40.4), (2016.01, 46), (2016.06, 40.4), (2016.1, 43.2),
       (2016.15, 34.8), (2016.2, 30.6), (2016.25, 34.8), (2016.29, 36.2), (2016.34, 40.4), (2016.39, 32),
       (2016.43, 23.7), (2016.48, 20.9), (2016.53, 18.1), (2016.58, 12.5), (2016.62, 11.1), (2016.67, 9.7),
       (2016.72, 8.4), (2016.77, 7), (2016.81, 5.6), (2016.91, 4.7), (2017.0, 3.6), (2017.1, 5.6), (2017.14, 3.6),
       (2017.24, 2.5), (2017.38, 1.9), (2017.57, 1.9), (2017.66, 2.2), (2017.76, 2.8), (2017.85, 2.5),
       (2017.99, 2.5), (2018.09, 2.3)]

SERIES = [ADL, AGQ, AHCG, ALS, AMED, BZT, CGNR, CORA, CRA, DKL, FCR, FLX, FOX, GLR, GSH,
          GWMO, HMI, JAN, JLP, KAT, KDNC, KDR, KEFI, KIBO, LEG, LION, LOGP, MYSQ, N4P, OKYO,
          PCGE, PFP, PHSC, PREM, SAV, SOLO, STEL, TILS, TIR, TRT, TYM, URU, VAL, WSBN, WSG, XTR]

# ---------------- drawing ----------------
W, H = 1062, 1534
CELL_W, CELL_H = 212, 153
BORDER = "#3c3cf5"
LINE_BLUE = "#0000ff"
TXT_RED, TXT_GREEN, TXT_BLUE = "#e00000", "#1f9a1f", "#23239a"

sns.set_style("white")
plt.rcParams["font.family"] = ["DejaVu Sans"]

fig = plt.figure(figsize=(W / 100, H / 100), dpi=100)
fig.patch.set_facecolor("white")


def fx(x):
    return x / W


def fy(y):
    return 1 - y / H


def yfmt(v, pos):
    return "0.00000" if abs(v) < 1e-12 else f"{v:g}"


fig.add_artist(Rectangle((0, fy(6)), 1, 6 / H, transform=fig.transFigure,
                         facecolor="#ececec", edgecolor="none", zorder=0))

for i, tk in enumerate(TICKERS):
    r, c = divmod(i, 5)
    cl = 5 + CELL_W * c
    ct = 7 + CELL_H * r

    # cell frame
    fig.add_artist(Rectangle((fx(cl), fy(ct + CELL_H)), CELL_W / W, CELL_H / H,
                             transform=fig.transFigure, fill=False, edgecolor=BORDER, lw=1.4, zorder=5))

    ax = fig.add_axes([fx(cl + 5), fy(ct + 128), 180 / W, 116 / H])
    df = pd.DataFrame(SERIES[i], columns=["year", "price"])
    sns.lineplot(data=df, x="year", y="price", ax=ax, color=LINE_BLUE, lw=0.75,
                 estimator=None, sort=False, zorder=3)

    prev_close = PRICE[i] - CHANGE[i]
    ax.axhline(prev_close, color="#ff1a1a", lw=0.9, zorder=2)

    ax.set_xlim(2013.13, 2018.23)
    if tk in FIXED_YLIM:
        ax.set_ylim(*FIXED_YLIM[tk])
    lo, hi = ax.get_ylim()
    ax.set_yticks(YTICKS[i])
    ax.set_ylim(lo, hi)
    ax.yaxis.set_major_formatter(FuncFormatter(yfmt))
    ax.yaxis.tick_right()

    ax.set_xticks(YEAR_TICKS)
    ax.set_xticklabels(YEAR_LABELS_OLD if tk in OLD_LABEL_PANELS else YEAR_LABELS)
    ax.set_xlabel("")
    ax.set_ylabel("")

    ax.tick_params(axis="both", labelsize=4.8, length=2, width=0.5, colors="#333333", pad=1.5)
    ax.grid(axis="x", color="#c4c4c4", lw=0.6)
    ax.grid(axis="y", color="#d0d0d0", lw=1.1)
    ax.set_axisbelow(True)
    for sp in ax.spines.values():
        sp.set_color("#444444")
        sp.set_linewidth(0.6)

    ax.text(0.02, 0.025, "\u00a9advfn.com", transform=ax.transAxes, fontsize=5.3, color="#555555",
            ha="left", va="bottom", zorder=2.5,
            bbox=dict(facecolor="white", edgecolor="none", pad=0.4))

    # title and footer
    fig.text(fx(cl + 3), fy(ct + 5.5), tk, fontsize=7.5, fontweight="bold", color="#222222",
             ha="left", va="center")

    chg = CHANGE[i]
    chg_txt = str(chg)
    if chg_txt.startswith("-"):
        col, mark = TXT_RED, "\u2193"
    elif chg > 0:
        col, mark = TXT_BLUE, "\u2191"
    else:
        col, mark = TXT_GREEN, "\u2022"
    fig.text(fx(cl + 4), fy(ct + 145), str(PRICE[i]), fontsize=7, fontweight="bold", color=col,
             ha="left", va="center")
    fig.text(fx(cl + 210), fy(ct + 145), chg_txt + mark, fontsize=7, fontweight="bold", color=col,
             ha="right", va="center")

fig.savefig("out.png", dpi=100, facecolor="white")
